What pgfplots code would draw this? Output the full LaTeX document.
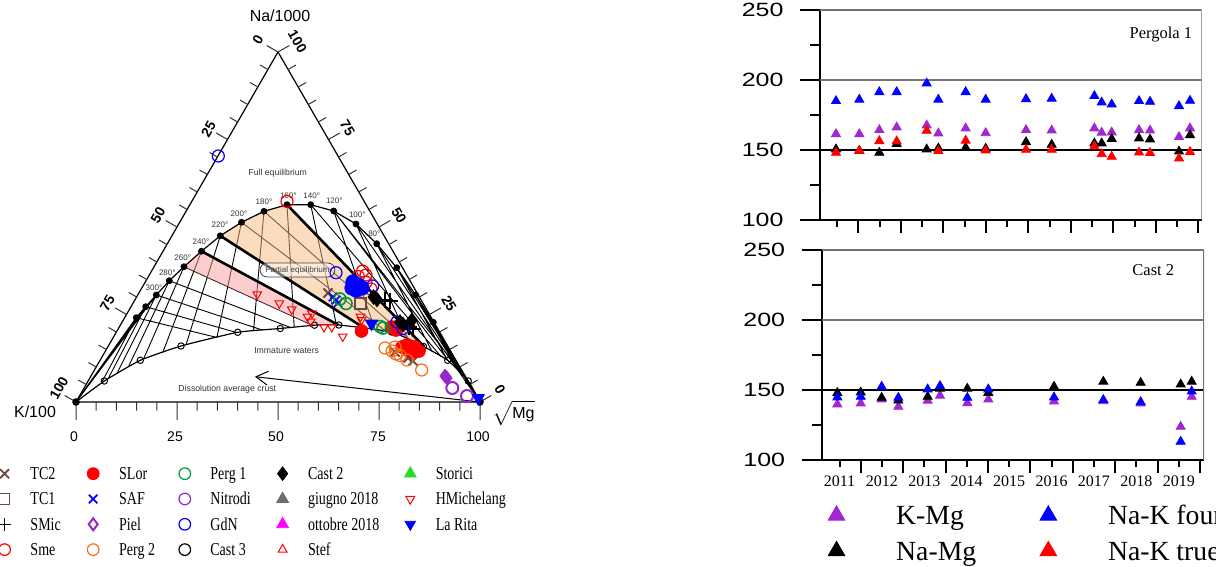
\documentclass[border=0pt]{standalone}
\usepackage{pgfplots}
\pgfplotsset{compat=1.18}
\usepackage{fontspec}
\setmainfont{Liberation Serif}
\newfontfamily\arial{Liberation Sans}
\usetikzlibrary{arrows.meta}
\definecolor{brownm}{RGB}{110,72,66}
\definecolor{orangem}{RGB}{245,110,25}
\definecolor{greenm}{RGB}{0,150,60}
\definecolor{purplem}{RGB}{150,40,200}
\definecolor{bluem}{RGB}{0,0,255}
\definecolor{redm}{RGB}{255,0,0}
\definecolor{storici}{RGB}{40,220,40}
\definecolor{graym}{RGB}{110,110,110}
\definecolor{magm}{RGB}{255,0,255}
\definecolor{peach}{RGB}{245,187,125}
\definecolor{pinkf}{RGB}{249,155,155}
\definecolor{kmg}{RGB}{160,40,210}
\newcommand{\LA}[1]{\makebox[26.85pt][l]{\scalebox{1}[1.3]{#1}}}
\newcommand{\LB}[1]{\makebox[28.5pt][l]{\scalebox{1}[1.3]{#1}}}
\newcommand{\LC}[1]{\makebox[31.85pt][l]{\scalebox{1}[1.3]{#1}}}
\newcommand{\LD}[1]{\makebox[46.85pt][l]{\scalebox{1}[1.3]{#1}}}
\newcommand{\LE}[1]{\makebox[45pt][l]{\scalebox{1}[1.3]{#1}}}
\begin{document}
\begin{tikzpicture}
\useasboundingbox (0,0) rectangle (608pt,283.5pt);
\clip (0,0) rectangle (608pt,283.5pt);
% ================= TERNARY =================
\begin{axis}[
  at={(0pt,0pt)}, anchor=south west, scale only axis,
  width=300pt, height=283.5pt,
  xmin=0, xmax=600, ymin=0, ymax=567, y dir=reverse,
  hide axis, clip=false,
  legend columns=5, legend cell align=left,
  legend style={draw=none, fill=none, at={(axis cs:-4.7,460.6)}, anchor=north west,
    inner sep=0pt, column sep=0pt, row sep=0pt,
    font=\fontsize{7}{8}\selectfont,
    nodes={inner sep=0pt, text height=9.33pt, text depth=3.33pt}},
  legend image code/.code={\path (-4pt,-3pt) (12.5pt,3pt);
    \draw[mark repeat=2,mark phase=2,#1] plot coordinates {(-1pt,0pt)(0pt,0pt)(1pt,0pt)};},
]
% thin grid lines
\addplot[black, line width=0.45pt, unbounded coords=jump, forget plot] coordinates {
(136.3,317.7)(217,337.5)(nan,nan)
(145.7,306.7)(236.5,332.5)(nan,nan)
(156.3,295)(262.5,330.1)(nan,nan)
(169.3,280.7)(290.5,327.5)(nan,nan)
(184,266.7)(312.8,325.5)(nan,nan)
(241.5,222.3)(386,331.2)(nan,nan)
(264,211.3)(410.5,340.6)(nan,nan)
(310.7,204.7)(441,356.5)(nan,nan)
(333.7,211)(449.3,361.9)(nan,nan)
(356,224)(459.8,373)(nan,nan)
(376.7,243.7)(462.5,375.3)(nan,nan)
(396.7,267.7)(464.5,377)(nan,nan)
(415.7,295)(468.3,381)(nan,nan)
(136.3,317.7)(101.8,382.2)(nan,nan)
(145.7,306.7)(108,379)(nan,nan)
(156.3,295)(116.8,373.8)(nan,nan)
(169.3,280.7)(128.4,366.8)(nan,nan)
(184,266.7)(143.5,359.1)(nan,nan)
(201.5,251.2)(162.7,352.6)(nan,nan)
(220.3,235.8)(186,344.8)(nan,nan)
(241.5,222.3)(216.9,337.4)(nan,nan)
(264,211.3)(253.5,330.9)(nan,nan)
(287,204.7)(294.2,327.1)(nan,nan)
(310.7,204.7)(336.5,325)(nan,nan)
(333.7,211)(375.3,330)(nan,nan)
(356,224)(408.6,340)(nan,nan)
(376.7,243.7)(432,351.4)(nan,nan)
(396.7,267.7)(447.7,360.4)(nan,nan)
(415.7,295)(459.5,372.3)(nan,nan)
(433.3,322.3)(465.5,378.5)(nan,nan)
(76,402)(145.7,306.7)(nan,nan)
(76,402)(156.3,295)(nan,nan)
(396.7,267.7)(480,402)(nan,nan)
(415.7,295)(480,402)(nan,nan)
(333.7,211)(468.3,381)(nan,nan)
(356,224)(480,402)
};
% shaded regions
\addplot[draw=none, fill=peach, fill opacity=0.5, forget plot] coordinates {
(220.3,235.8)(241.5,222.3)(264,211.3)(287,204.7)(424,346.5)(391.5,332)(365,328.6)} --cycle;
\addplot[draw=none, fill=pinkf, fill opacity=0.5, forget plot] coordinates {
(184,266.7)(201.5,251.2)(338.5,325.1)(314.5,325.2)(312.8,325.5)} --cycle;
% thick lines
\addplot[black, line width=1.3pt, unbounded coords=jump, forget plot] coordinates {
(201.5,251.2)(338.5,325.1)(nan,nan)
(220.3,235.8)(365,328.6)(nan,nan)
(287,204.7)(424,346.5)};
% triangle
\addplot[black, line width=0.6pt, forget plot] coordinates {(76,402)(480,402)(278,52)(76,402)};
% ticks
\addplot[black!80, line width=0.5pt, unbounded coords=jump, forget plot] coordinates {
(76,402)(76,420)(nan,nan)(96.2,402)(96.2,410.5)(nan,nan)(116.4,402)(116.4,410.5)(nan,nan)
(136.6,402)(136.6,410.5)(nan,nan)(156.8,402)(156.8,410.5)(nan,nan)(177,402)(177,420)(nan,nan)
(197.2,402)(197.2,410.5)(nan,nan)(217.4,402)(217.4,410.5)(nan,nan)(237.6,402)(237.6,410.5)(nan,nan)
(257.8,402)(257.8,410.5)(nan,nan)(278,402)(278,420)(nan,nan)(298.2,402)(298.2,410.5)(nan,nan)
(318.4,402)(318.4,410.5)(nan,nan)(338.6,402)(338.6,410.5)(nan,nan)(358.8,402)(358.8,410.5)(nan,nan)
(379,402)(379,420)(nan,nan)(399.2,402)(399.2,410.5)(nan,nan)(419.4,402)(419.4,410.5)(nan,nan)
(439.6,402)(439.6,410.5)(nan,nan)(459.8,402)(459.8,410.5)(nan,nan)(480,402)(480,420)(nan,nan)
(278,52)(266.7,45.5)(nan,nan)(267.9,69.5)(260.1,65)(nan,nan)(257.8,87)(250,82.5)(nan,nan)
(247.7,104.5)(239.9,100)(nan,nan)(237.6,122)(229.8,117.5)(nan,nan)(227.5,139.5)(216.2,133)(nan,nan)
(217.4,157)(209.6,152.5)(nan,nan)(207.3,174.5)(199.5,170)(nan,nan)(197.2,192)(189.4,187.5)(nan,nan)
(187.1,209.5)(179.3,205)(nan,nan)(177,227)(165.7,220.5)(nan,nan)(166.9,244.5)(159.1,240)(nan,nan)
(156.8,262)(149,257.5)(nan,nan)(146.7,279.5)(138.9,275)(nan,nan)(136.6,297)(128.8,292.5)(nan,nan)
(126.5,314.5)(115.2,308)(nan,nan)(116.4,332)(108.6,327.5)(nan,nan)(106.3,349.5)(98.5,345)(nan,nan)
(96.2,367)(88.4,362.5)(nan,nan)(86.1,384.5)(78.3,380)(nan,nan)(76,402)(64.7,395.5)(nan,nan)
(278,52)(289.3,45.5)(nan,nan)(288.1,69.5)(295.9,65)(nan,nan)(298.2,87)(306,82.5)(nan,nan)
(308.3,104.5)(316.1,100)(nan,nan)(318.4,122)(326.2,117.5)(nan,nan)(328.5,139.5)(339.8,133)(nan,nan)
(338.6,157)(346.4,152.5)(nan,nan)(348.7,174.5)(356.5,170)(nan,nan)(358.8,192)(366.6,187.5)(nan,nan)
(368.9,209.5)(376.7,205)(nan,nan)(379,227)(390.3,220.5)(nan,nan)(389.1,244.5)(396.9,240)(nan,nan)
(399.2,262)(407,257.5)(nan,nan)(409.3,279.5)(417.1,275)(nan,nan)(419.4,297)(427.2,292.5)(nan,nan)
(429.5,314.5)(440.8,308)(nan,nan)(439.6,332)(447.4,327.5)(nan,nan)(449.7,349.5)(457.5,345)(nan,nan)
(459.8,367)(467.6,362.5)(nan,nan)(469.9,384.5)(477.7,380)(nan,nan)(480,402)(491.3,395.5)
};
% full equilibrium curve
\addplot[black, line width=0.6pt, mark=*, mark size=1.4pt, forget plot] coordinates {
(76,402)(136.3,317.7)(145.7,306.7)(156.3,295)(169.3,280.7)(184,266.7)(201.5,251.2)(220.3,235.8)
(241.5,222.3)(264,211.3)(287,204.7)(310.7,204.7)(333.7,211)(356,224)(376.7,243.7)(396.7,267.7)
(415.7,295)(433.3,322.3)(480,402)};
% immature curve
\addplot[black, line width=0.6pt, smooth, tension=0.3, mark=o, mark size=1.6pt, mark options={fill=white, line width=0.5pt}, forget plot] coordinates {
(76,402)(104.3,381)(140.3,360.3)(181,346)(237.7,332.3)(280.3,328.5)(314.5,325.2)(338.8,325)
(391.5,332)(423.5,346.5)(447.7,360.3)(468.3,381)(480,402)};
% dissolution arrow
\addplot[black, line width=0.5pt, {Straight Barb[length=6pt,width=7pt]}-, forget plot] coordinates {(255,376.7)(476.7,401.7)};
% labels
\node[font=\arial\fontsize{8}{9}\selectfont] at (axis cs:280,16) {Na/1000};
\node[font=\arial\fontsize{8}{9}\selectfont, inner sep=0pt] at (axis cs:35,412) {K/100};
\node[font=\arial\fontsize{8}{9}\selectfont, anchor=west, inner sep=0pt] at (axis cs:492,413) {$\sqrt{\mbox{\arial Mg}}$};
\begin{scope}[font=\arial\fontsize{7}{8}\selectfont]
\node at (axis cs:74,437) {0};
\node at (axis cs:175,437) {25};
\node at (axis cs:276,437) {50};
\node at (axis cs:378,437) {75};
\node at (axis cs:478,437) {100};
\end{scope}
\begin{scope}[font=\arial\bfseries\fontsize{7}{8}\selectfont, inner sep=0pt]
\node[rotate=60] at (axis cs:258,40) {0};
\node[rotate=60] at (axis cs:208.5,129) {25};
\node[rotate=60] at (axis cs:158,215) {50};
\node[rotate=60] at (axis cs:107.5,303) {75};
\node[rotate=60] at (axis cs:59,388) {100};
\node[rotate=-60] at (axis cs:297.5,41.5) {100};
\node[rotate=-60] at (axis cs:347.5,128) {75};
\node[rotate=-60] at (axis cs:399,215.5) {50};
\node[rotate=-60] at (axis cs:449,303.5) {25};
\node[rotate=-60] at (axis cs:500,389) {0};
\end{scope}
\begin{scope}[font=\arial\fontsize{4}{5}\selectfont, text=black!80, inner sep=0pt]
\node at (axis cs:264,202) {180°};
\node at (axis cs:288.3,195.7) {160°};
\node at (axis cs:311.7,195.7) {140°};
\node at (axis cs:334.3,201) {120°};
\node at (axis cs:357.3,215) {100°};
\node at (axis cs:374.3,233.3) {80°};
\node at (axis cs:239,214) {200°};
\node at (axis cs:220,225) {220°};
\node at (axis cs:201,241.3) {240°};
\node at (axis cs:182.7,257.3) {260°};
\node at (axis cs:167.3,272.3) {280°};
\node at (axis cs:154,287.3) {300°};
\end{scope}
\begin{scope}[font=\arial\fontsize{4.35}{5}\selectfont, text=black!80]
\node at (axis cs:277.7,173.3) {Full equilibrium};
\node at (axis cs:286.7,350.7) {Immature waters};
\node at (axis cs:227.3,389) {Dissolution average crust};
\end{scope}
\node[draw=black!75, rounded corners=3.5pt, fill=white, fill opacity=0.45, text opacity=1, text=black!75,
  font=\arial\fontsize{4.05}{5}\selectfont, inner xsep=2.6pt, inner ysep=1.6pt] at (axis cs:297.5,270) {Partial equilibrium};
% ---- data ----
\addplot[only marks, mark=x, mark size=3.2pt, draw=brownm, line width=0.9pt, forget plot] coordinates {(328,293)(395,352)(408,358)(413,361)};
\addplot[only marks, mark=square, mark size=2.8pt, draw=brownm, line width=0.7pt, forget plot] coordinates {(360.5,303.5)};
\addplot[only marks, mark=+, mark size=4pt, draw=black, line width=0.9pt, forget plot] coordinates {(385,300)(390,301)(409,327)(413,329)};
\addplot[only marks, mark=o, mark size=3pt, draw=redm, line width=0.6pt, forget plot] coordinates {(287,201.3)(362.7,271)(366,275)(358.3,276.5)(366,282.3)(371,289)};
\addplot[only marks, mark=*, mark size=3.2pt, draw=redm, fill=redm, forget plot] coordinates {(361.5,331)(391.5,327)(396,330)(402,347)(407,345)(408,350)(412,352)(415,347)(419,351)};
\addplot[only marks, mark=x, mark size=3pt, draw=bluem, line width=0.8pt, forget plot] coordinates {(333,297)(336,300)(338,303)};
\addplot[only marks, mark=diamond*, mark size=3.4pt, draw=purplem, fill=purplem, forget plot] coordinates {(445,376)(447,378)};
\addplot[only marks, mark=o, mark size=3pt, draw=orangem, line width=0.6pt, forget plot] coordinates {(385,348)(392,351)(395,347)(396,354)(400,355.5)(407,360)(421.7,370)};
\addplot[only marks, mark=o, mark size=3pt, draw=greenm, line width=0.8pt, forget plot] coordinates {(340,299)(346,303.5)(380,326.5)(383,328)};
\addplot[only marks, mark=o, mark size=3pt, draw=purplem, line width=1pt, forget plot] coordinates {(452.3,388)(467,396)};
\addplot[only marks, mark=*, mark size=3.6pt, draw=bluem, fill=bluem, forget plot] coordinates {(353,282)(358,285)(362,288)(356,290)(352,288)};
\addplot[only marks, mark=o, mark size=3pt, draw=bluem, line width=0.6pt, forget plot] coordinates {(218.3,156)(336,272.7)(372.7,286)(397,322)(403,328.5)};
\addplot[only marks, mark=diamond*, mark size=3.6pt, draw=black, fill=black, forget plot] coordinates {(373.5,297)(377,299.5)(400,322)(403,324.5)(411.7,320.5)};
\addplot[only marks, mark=triangle, mark size=2.5pt, mark options={rotate=180}, draw=redm, line width=0.5pt, forget plot] coordinates {(257.3,294.3)(279.3,303.3)(291.7,309.3)(307.5,316.7)(312,313.3)(310.7,321.5)(324,327)(331.7,327)(342.7,336.5)(360.5,316.7)(361.5,320)};
\addplot[only marks, mark=triangle*, mark size=3.5pt, mark options={rotate=180}, draw=bluem, fill=bluem, forget plot] coordinates {(371.5,323.5)(478.3,398)};
% ---- legend ----
\addlegendimage{only marks, mark=x, mark size=3.2pt, draw=brownm, line width=0.9pt}
\addlegendentry{\LA{TC2}}
\addlegendimage{only marks, mark=*, mark size=3pt, draw=redm, fill=redm}
\addlegendentry{\LB{SLor}}
\addlegendimage{only marks, mark=o, mark size=2.9pt, draw=greenm, line width=0.6pt}
\addlegendentry{\LC{Perg 1}}
\addlegendimage{only marks, mark=diamond*, mark size=3.4pt, draw=black, fill=black}
\addlegendentry{\LD{Cast 2}}
\addlegendimage{only marks, mark=triangle*, mark size=3.4pt, draw=storici, fill=storici}
\addlegendentry{\LE{Storici}}
\addlegendimage{only marks, mark=square, mark size=2.6pt, draw=brownm, line width=0.5pt}
\addlegendentry{\LA{TC1}}
\addlegendimage{only marks, mark=x, mark size=3pt, draw=bluem, line width=0.9pt}
\addlegendentry{\LB{SAF}}
\addlegendimage{only marks, mark=o, mark size=2.9pt, draw=purplem, line width=0.6pt}
\addlegendentry{\LC{Nitrodi}}
\addlegendimage{only marks, mark=triangle*, mark size=3.4pt, draw=graym, fill=graym}
\addlegendentry{\LD{giugno 2018}}
\addlegendimage{only marks, mark=triangle, mark size=2.6pt, mark options={rotate=180}, draw=redm, line width=0.5pt}
\addlegendentry{\LE{HMichelang}}
\addlegendimage{only marks, mark=+, mark size=3.2pt, draw=black, line width=0.6pt}
\addlegendentry{\LA{SMic}}
\addlegendimage{only marks, mark=diamond, mark size=3pt, draw=purplem, line width=1pt}
\addlegendentry{\LB{Piel}}
\addlegendimage{only marks, mark=o, mark size=2.9pt, draw=bluem, line width=0.6pt}
\addlegendentry{\LC{GdN}}
\addlegendimage{only marks, mark=triangle*, mark size=3.4pt, draw=magm, fill=magm}
\addlegendentry{\LD{ottobre 2018}}
\addlegendimage{only marks, mark=triangle*, mark size=3pt, mark options={rotate=180}, draw=bluem, fill=bluem}
\addlegendentry{\LE{La Rita}}
\addlegendimage{only marks, mark=o, mark size=2.9pt, draw=redm, line width=0.6pt}
\addlegendentry{\LA{Sme}}
\addlegendimage{only marks, mark=o, mark size=2.9pt, draw=orangem, line width=0.6pt}
\addlegendentry{\LB{Perg 2}}
\addlegendimage{only marks, mark=o, mark size=2.9pt, draw=black, line width=0.6pt}
\addlegendentry{\LC{Cast 3}}
\addlegendimage{only marks, mark=triangle, mark size=2.6pt, draw=redm, line width=0.5pt}
\addlegendentry{\LD{Stef}}
\end{axis}
% ================= PERGOLA 1 =================
\begin{axis}[
  at={(410pt,173.5pt)}, anchor=south west, scale only axis,
  width=190.85pt, height=105pt,
  xmin=2011.099, xmax=2020.08, ymin=100, ymax=250,
  axis x line*=bottom, axis y line*=left,
  axis line style={line width=1pt, -},
  tick align=outside,
  xtick={2012,2013,2014,2015,2016,2017,2018,2019,2020}, xticklabels={},
  minor xtick={2011.5,2012.5,2013.5,2014.5,2015.5,2016.5,2017.5,2018.5,2019.5},
  ytick={100,150,200,250}, minor ytick={125,175,225},
  yticklabels={\scalebox{1.3}[1]{100},\scalebox{1.3}[1]{150},\scalebox{1.3}[1]{200},\scalebox{1.3}[1]{250}},
  xtick style={/pgfplots/major tick length=6.5pt, /pgfplots/minor tick length=3.5pt, line width=1pt, black},
  ytick style={/pgfplots/major tick length=10pt, /pgfplots/minor tick length=5pt, line width=1pt, black},
  yticklabel style={font=\arial\fontsize{9.6}{10}\selectfont, xshift=-10.5pt},
]
\draw[black!55, line width=0.6pt] (axis cs:2011.099,200) -- (axis cs:2020.08,200);
\draw[black, line width=0.6pt] (axis cs:2011.099,150) -- (axis cs:2020.08,150);
\draw[black!55, line width=0.8pt] (rel axis cs:0,1) -- (rel axis cs:1,1);
\draw[black!55, line width=0.8pt] (rel axis cs:1,0) -- (rel axis cs:1,1);
\addplot[only marks, mark=triangle*, mark size=2.6pt, draw=kmg, fill=kmg] coordinates {
(2011.475,161.4)(2012.024,161.4)(2012.495,164.3)(2012.903,166.2)(2013.609,167.6)(2013.883,161.9)(2014.526,165.5)(2014.997,162.1)(2015.946,164.3)(2016.55,164.0)(2017.554,165.5)(2017.726,162.4)(2017.962,162.6)(2018.605,164.3)(2018.864,164.0)(2019.546,159.3)(2019.805,165.5)};
\addplot[only marks, mark=triangle*, mark size=2.6pt, draw=black, fill=black] coordinates {
(2011.475,150.5)(2012.024,149.5)(2012.495,148.1)(2012.903,154.3)(2013.609,150.5)(2013.883,151.2)(2014.526,151.7)(2014.997,151)(2015.946,155.7)(2016.55,153.8)(2017.554,154.8)(2017.726,154.8)(2017.962,157.9)(2018.605,158.3)(2018.864,157.6)(2019.546,149)(2019.805,160.7)};
\addplot[only marks, mark=triangle*, mark size=2.6pt, draw=bluem, fill=bluem] coordinates {
(2011.475,185.0)(2012.024,186.0)(2012.495,191.4)(2012.903,191.4)(2013.609,197.6)(2013.883,186)(2014.526,191.4)(2014.997,186)(2015.946,186.4)(2016.55,186.7)(2017.554,188.6)(2017.726,184)(2017.962,182.6)(2018.605,185)(2018.864,184.5)(2019.546,181.4)(2019.805,185.2)};
\addplot[only marks, mark=triangle*, mark size=2.6pt, draw=redm, fill=redm] coordinates {
(2011.475,148.1)(2012.024,149.5)(2012.495,156.4)(2012.903,156.2)(2013.609,163.8)(2013.883,149.3)(2014.526,156.7)(2014.997,149.8)(2015.946,150.2)(2016.55,150.2)(2017.554,152.6)(2017.726,147.1)(2017.962,145.2)(2018.605,148.3)(2018.864,147.9)(2019.546,144)(2019.805,148.6)};
\node[font=\fontsize{8.25}{9}\selectfont] at (axis cs:2019.12,232.1) {Pergola 1};
\end{axis}
% ================= CAST 2 =================
\begin{axis}[
  at={(410.85pt,53.5pt)}, anchor=south west, scale only axis,
  width=191.15pt, height=105pt,
  xmin=2011.08, xmax=2020.095, ymin=100, ymax=250,
  axis x line*=bottom, axis y line*=left,
  axis line style={line width=1pt, -},
  tick align=outside,
  xtick={2012,2013,2014,2015,2016,2017,2018,2019,2020},
  xticklabels={2011,2012,2013,2014,2015,2016,2017,2018,2019},
  xticklabel style={font=\fontsize{8}{9}\selectfont, xshift=-10.6pt},
  minor xtick={2011.5,2012.5,2013.5,2014.5,2015.5,2016.5,2017.5,2018.5,2019.5},
  ytick={100,150,200,250}, minor ytick={125,175,225},
  yticklabels={\scalebox{1.3}[1]{100},\scalebox{1.3}[1]{150},\scalebox{1.3}[1]{200},\scalebox{1.3}[1]{250}},
  xtick style={/pgfplots/major tick length=6.5pt, /pgfplots/minor tick length=3.5pt, line width=1pt, black},
  ytick style={/pgfplots/major tick length=10pt, /pgfplots/minor tick length=5pt, line width=1pt, black},
  yticklabel style={font=\arial\fontsize{9.6}{10}\selectfont, xshift=-10.5pt},
  legend columns=2, legend cell align=left,
  legend style={draw=none, fill=none, at={(axis cs:2011.175,73.46)}, anchor=north west,
    inner sep=0pt, column sep=0pt, row sep=0pt, font=\fontsize{13.85}{15}\selectfont,
    nodes={inner sep=0pt, text height=13.5pt, text depth=4.3pt}},
  legend image code/.code={\path (-5pt,-3pt) (29.65pt,3pt);
    \draw[mark repeat=2,mark phase=2,#1] plot coordinates {(-1pt,0pt)(0pt,0pt)(1pt,0pt)};},
]
\draw[black!55, line width=0.6pt] (axis cs:2011.08,200) -- (axis cs:2020.095,200);
\draw[black, line width=0.6pt] (axis cs:2011.08,150) -- (axis cs:2020.095,150);
\draw[black!55, line width=0.8pt] (rel axis cs:0,1) -- (rel axis cs:1,1);
\draw[black!55, line width=0.8pt] (rel axis cs:1,0) -- (rel axis cs:1,1);
\addplot[only marks, mark=triangle*, mark size=2.6pt, draw=kmg, fill=kmg, forget plot] coordinates {
(2011.449,139.8)(2012.0,140.5)(2012.494,143.3)(2012.887,138.1)(2013.579,142.4)(2013.870,146)(2014.514,140.7)(2015.009,143.3)(2016.558,141.9)(2017.721,142.1)(2018.601,140.5)(2019.545,123.8)(2019.804,145.2)};
\addplot[only marks, mark=triangle*, mark size=2.6pt, draw=black, fill=black, forget plot] coordinates {
(2011.449,147.9)(2012.0,148.3)(2012.494,144.5)(2012.887,142.5)(2013.579,145.2)(2013.870,151)(2014.514,151)(2015.009,148)(2016.558,152.4)(2017.721,156)(2018.601,155.2)(2019.545,154)(2019.804,156)};
\addplot[only marks, mark=triangle*, mark size=2.6pt, draw=bluem, fill=bluem, forget plot] coordinates {
(2011.449,144.8)(2012.0,145.2)(2012.494,152.4)(2012.887,144.5)(2013.579,150.5)(2013.870,152.9)(2014.514,144.5)(2015.009,150.5)(2016.558,144.8)(2017.721,142.9)(2018.601,141.4)(2019.545,113.1)(2019.804,149)};
\node[font=\fontsize{8.25}{9}\selectfont] at (axis cs:2018.9,235.7) {Cast 2};
\addlegendimage{only marks, mark=triangle*, mark size=4.8pt, draw=kmg, fill=kmg}
\addlegendentry{\makebox[70.85pt][l]{K-Mg}}
\addlegendimage{only marks, mark=triangle*, mark size=4.8pt, draw=bluem, fill=bluem}
\addlegendentry{Na-K fournier}
\addlegendimage{only marks, mark=triangle*, mark size=4.8pt, draw=black, fill=black}
\addlegendentry{\makebox[70.85pt][l]{Na-Mg}}
\addlegendimage{only marks, mark=triangle*, mark size=4.8pt, draw=redm, fill=redm}
\addlegendentry{Na-K truesdell}
\end{axis}
\end{tikzpicture}
\end{document}
